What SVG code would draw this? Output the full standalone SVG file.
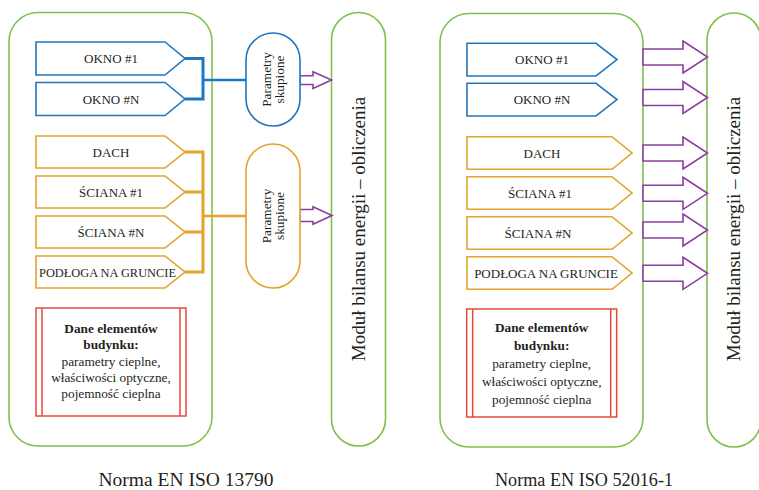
<svg xmlns="http://www.w3.org/2000/svg" width="759" height="490" viewBox="0 0 759 490">
<defs>
<style>
.cont{fill:#fff;stroke:#7cc24a;stroke-width:1.6}
.blue{fill:#fff;stroke:#1f77c0;stroke-width:1.6}
.orng{fill:#fff;stroke:#e4a32a;stroke-width:1.6}
.red{fill:#fff;stroke:#e8493a;stroke-width:1.5}
.redl{fill:none;stroke:#e8493a;stroke-width:1.5}
.arr{fill:#fff;stroke:#8a3ea3;stroke-width:1.6;stroke-linejoin:miter}
.bbr{fill:none;stroke:#1f77c0;stroke-width:3}
.obr{fill:none;stroke:#e4a32a;stroke-width:3}
text{font-family:"Liberation Serif","Times New Roman",serif;fill:#231f20}
.t{font-size:13px;text-anchor:middle}
.d{font-size:13.3px;text-anchor:middle}
.b{font-weight:bold}
.p{font-size:13.3px;text-anchor:middle}
.m{font-size:19px;text-anchor:middle}
.c{font-size:19px;text-anchor:middle}
</style>
</defs>

<!-- LEFT PANEL -->
<g id="left-container"><rect class="cont" x="9" y="12.5" width="203" height="433.5" rx="29" ry="29"/></g>
<g id="left-module">
<rect class="cont" x="331.5" y="12.5" width="54" height="433.5" rx="27" ry="27"/>
<text class="m" transform="translate(364.5,229) rotate(-90)">Moduł bilansu energii – obliczenia</text>
</g>

<g id="connectors-left">
<path class="bbr" d="M185 58.5 H203 V99 H185"/>
<path d="M203 80 H246" fill="none" stroke="#1f77c0" stroke-width="2.6"/>
<path class="obr" d="M185 152 H203 V272 H185 M185 192 H203 M185 232 H203"/>
<path d="M203 216 H246" fill="none" stroke="#e4a32a" stroke-width="2.6"/>
<path class="arr" d="M300 75.8 H313 V71.8 L331.5 80 L313 88.5 V84.5 H300 Z"/>
<path class="arr" d="M300 209.5 H313 V206.8 L332 215.5 L313 224.3 V221.5 H300 Z"/>
</g>

<g id="l-okno1"><path class="blue" d="M36 42 H165 L185 58.5 L165 75 H36 Z"/><text class="t" x="111" y="63">OKNO #1</text></g>
<g id="l-oknon"><path class="blue" d="M36 82.5 H165 L185 99 L165 115.5 H36 Z"/><text class="t" x="111" y="103.5">OKNO #N</text></g>
<g id="l-dach"><path class="orng" d="M36 136 H165 L185 152 L165 168 H36 Z"/><text class="t" x="111" y="156.5">DACH</text></g>
<g id="l-sciana1"><path class="orng" d="M36 176 H165 L185 192 L165 208 H36 Z"/><text class="t" x="111" y="196.5">ŚCIANA #1</text></g>
<g id="l-scianan"><path class="orng" d="M36 216 H165 L185 232 L165 248 H36 Z"/><text class="t" x="111" y="236.5">ŚCIANA #N</text></g>
<g id="l-podloga"><path class="orng" d="M36 256 H165 L185 272 L165 288 H36 Z"/><text class="t" x="107.5" y="276.5" textLength="137" lengthAdjust="spacingAndGlyphs">PODŁOGA NA GRUNCIE</text></g>

<g id="l-param-okna">
<rect class="blue" x="246" y="33" width="54" height="93" rx="27" ry="27"/>
<text class="p" transform="translate(270.5,79.5) rotate(-90)">Parametry</text>
<text class="p" transform="translate(284,79.5) rotate(-90)">skupione</text>
</g>
<g id="l-param-przegrody">
<rect class="orng" x="246" y="144" width="54" height="144" rx="27" ry="27"/>
<text class="p" transform="translate(270.5,216) rotate(-90)">Parametry</text>
<text class="p" transform="translate(284,216) rotate(-90)">skupione</text>
</g>

<g id="l-dane">
<rect class="red" x="36" y="308" width="150" height="108"/>
<path class="redl" d="M42 308 V416 M180 308 V416"/>
<text class="d b" x="111" y="332.5">Dane elementów</text>
<text class="d b" x="111" y="349">budynku:</text>
<text class="d" x="111" y="365.5">parametry cieplne,</text>
<text class="d" x="111" y="382">właściwości optyczne,</text>
<text class="d" x="111" y="398">pojemność cieplna</text>
</g>

<g id="caption-left"><text class="c" x="186" y="486" textLength="175" lengthAdjust="spacingAndGlyphs">Norma EN ISO 13790</text></g>

<!-- RIGHT PANEL -->
<g id="right-container"><rect class="cont" x="440" y="13.5" width="203" height="433.5" rx="29" ry="29"/></g>
<g id="right-module">
<rect class="cont" x="707" y="13" width="54" height="434" rx="27" ry="27"/>
<text class="m" transform="translate(739.5,229) rotate(-90)">Moduł bilansu energii – obliczenia</text>
</g>

<g id="connectors-right">
<path class="arr" d="M643 49 H683 V41 L707.5 57 L683 73 V65 H643 Z"/>
<path class="arr" d="M643 89.5 H683 V81.5 L707.5 97.5 L683 113.5 V105.5 H643 Z"/>
<path class="arr" d="M643 145 H683 V137 L707.5 153 L683 169 V161 H643 Z"/>
<path class="arr" d="M643 185.3 H683 V177.3 L707.5 193.3 L683 209.3 V201.3 H643 Z"/>
<path class="arr" d="M643 222 H683 V214 L707.5 230 L683 246 V238 H643 Z"/>
<path class="arr" d="M643 265.3 H683 V257.3 L707.5 273.3 L683 289.3 V281.3 H643 Z"/>
</g>

<g id="r-okno1"><path class="blue" d="M467 43.3 H596 L617 59.6 L596 76 H467 Z"/><text class="t" x="542" y="64">OKNO #1</text></g>
<g id="r-oknon"><path class="blue" d="M467 83.3 H596 L617 99.6 L596 116 H467 Z"/><text class="t" x="542" y="104">OKNO #N</text></g>
<g id="r-dach"><path class="orng" d="M467 136.7 H612 L632 153 L612 169.3 H467 Z"/><text class="t" x="542" y="157.5">DACH</text></g>
<g id="r-sciana1"><path class="orng" d="M467 176.7 H612 L632 193 L612 209.3 H467 Z"/><text class="t" x="540" y="197.5">ŚCIANA #1</text></g>
<g id="r-scianan"><path class="orng" d="M467 216.7 H612 L632 233 L612 249.3 H467 Z"/><text class="t" x="538" y="237.5">ŚCIANA #N</text></g>
<g id="r-podloga"><path class="orng" d="M467 256.7 H612 L632 273 L612 289.3 H467 Z"/><text class="t" x="546" y="277.5">PODŁOGA NA GRUNCIE</text></g>

<g id="r-dane">
<rect class="red" x="466.7" y="309" width="150" height="108"/>
<path class="redl" d="M472.7 309 V417 M610.7 309 V417"/>
<text class="d b" x="541.7" y="332">Dane elementów</text>
<text class="d b" x="541.7" y="350">budynku:</text>
<text class="d" x="541.7" y="368">parametry cieplne,</text>
<text class="d" x="541.7" y="386">właściwości optyczne,</text>
<text class="d" x="541.7" y="404">pojemność cieplna</text>
</g>

<g id="caption-right"><text class="c" x="584" y="486" textLength="178" lengthAdjust="spacingAndGlyphs">Norma EN ISO 52016-1</text></g>
</svg>
